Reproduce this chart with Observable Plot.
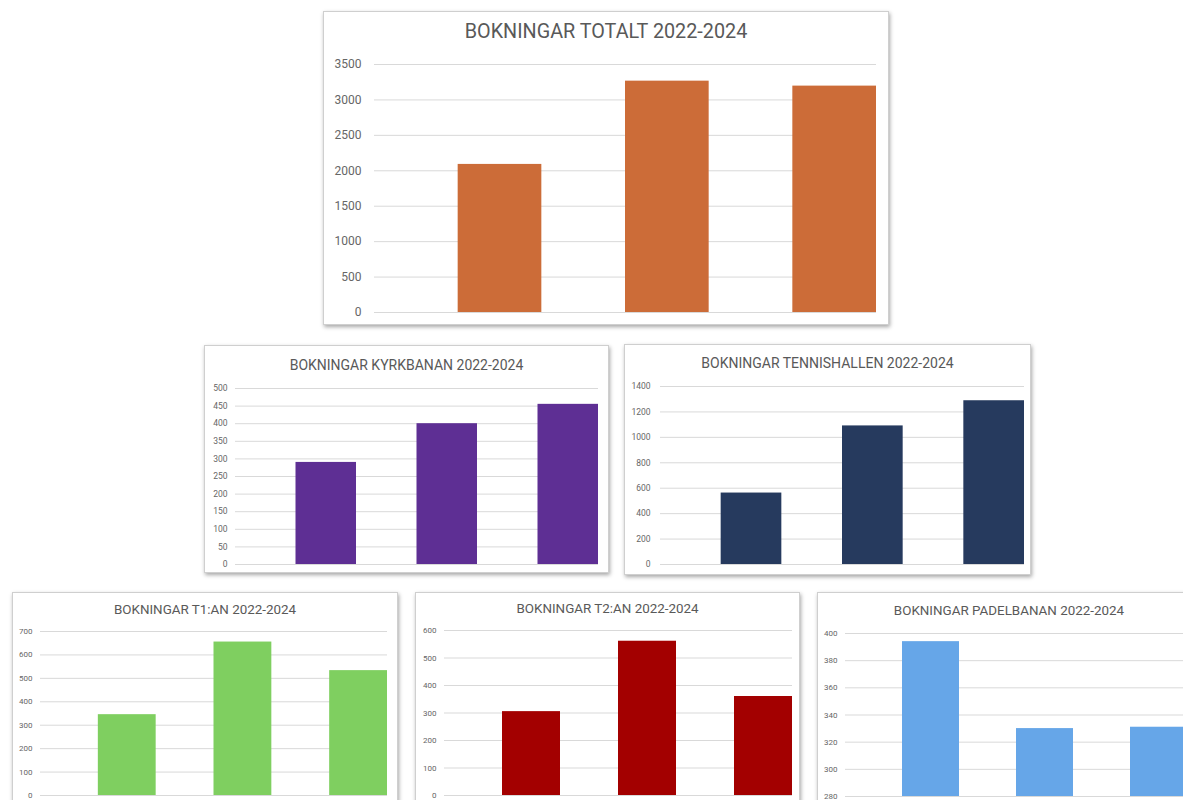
<!DOCTYPE html>
<html><head><meta charset="utf-8">
<script src="https://cdn.jsdelivr.net/npm/d3@7"></script>
<script src="https://cdn.jsdelivr.net/npm/@observablehq/plot@0.6"></script>
<style>
html,body{margin:0;padding:0;background:#fff;}
body{width:1183px;height:800px;overflow:hidden;position:relative;font-family:Roboto,"Noto Sans",sans-serif;}
.panel{position:absolute;box-sizing:content-box;background:#fff;border:1px solid #cfcfcf;box-shadow:1px 2px 4px rgba(0,0,0,0.35);overflow:hidden;}
.ttl{text-align:center;color:#595959;white-space:nowrap;}
.panel svg{display:block;}
</style></head><body>
<script>
// ---- data ----
const years = ["2022", "2023", "2024"];
const titles = [
  "BOKNINGAR TOTALT 2022-2024",
  "BOKNINGAR KYRKBANAN 2022-2024",
  "BOKNINGAR TENNISHALLEN 2022-2024",
  "BOKNINGAR T1:AN 2022-2024",
  "BOKNINGAR T2:AN 2022-2024",
  "BOKNINGAR PADELBANAN 2022-2024"
];
const totalt = [2090, 3265, 3195];
const kyrkbanan = [290, 400, 455];
const tennishallen = [562, 1090, 1288];
const t1an = [345, 655, 533];
const t2an = [305, 561, 360];
const padelbanan = [394, 330, 331];

const totaltTicks = [0, 500, 1000, 1500, 2000, 2500, 3000, 3500];
const kyrkbananTicks = [0, 50, 100, 150, 200, 250, 300, 350, 400, 450, 500];
const tennishallenTicks = [0, 200, 400, 600, 800, 1000, 1200, 1400];
const t1anTicks = [0, 100, 200, 300, 400, 500, 600, 700];
const t2anTicks = [0, 100, 200, 300, 400, 500, 600];
const padelbananTicks = [280, 300, 320, 340, 360, 380, 400];

const colors = ["#CC6C38", "#5E2F94", "#263A5E", "#7FCF60", "#A30000", "#66A6E8"];

// ---- layout (panel geometry) ----
const layout = [
  {left:323, top:11,  w:564, h:312, titleH:40, titleSize:19.8, tick:12,  mt:12, mb:12, ml:50, mr:12, pad:13},
  {left:204, top:345, w:403, h:226, titleH:38, titleSize:14,   tick:8.5, mt:4,  mb:8,  ml:30, mr:10, pad:8},
  {left:624, top:344, w:405, h:229, titleH:36, titleSize:14,   tick:8.5, mt:5,  mb:10, ml:35, mr:6,  pad:10},
  {left:12,  top:592, w:384, h:235, titleH:34, titleSize:13.4, tick:8,   mt:4,  mb:33, ml:27, mr:10, pad:8},
  {left:415, top:592, w:383, h:235, titleH:32, titleSize:13.4, tick:8,   mt:5,  mb:33, ml:28, mr:7,  pad:8},
  {left:817, top:592, w:382, h:235, titleH:36, titleSize:13.4, tick:8,   mt:4,  mb:32, ml:27, mr:13, pad:8}
];

const series = [totalt, kyrkbanan, tennishallen, t1an, t2an, padelbanan];
const ticks = [totaltTicks, kyrkbananTicks, tennishallenTicks, t1anTicks, t2anTicks, padelbananTicks];

series.forEach((vals, i) => {
  const L = layout[i];
  const panel = document.createElement("div");
  panel.className = "panel";
  Object.assign(panel.style, {left: L.left + "px", top: L.top + "px", width: L.w + "px", height: L.h + "px"});
  const t = document.createElement("div");
  t.className = "ttl";
  t.textContent = titles[i];
  Object.assign(t.style, {height: L.titleH + "px", lineHeight: L.titleH + "px", fontSize: L.titleSize + "px"});
  panel.appendChild(t);

  const data = years.map((y, j) => ({year: y, value: vals[j]}));
  const tk = ticks[i];
  const chart = Plot.plot({
    width: L.w,
    height: L.h - L.titleH,
    marginTop: L.mt, marginBottom: L.mb, marginLeft: L.ml, marginRight: L.mr,
    style: {fontFamily: "Roboto, sans-serif", fontSize: L.tick + "px", color: "#666", background: "transparent", overflow: "visible"},
    x: {domain: years, paddingInner: 0.5, paddingOuter: 0.25, align: 1, round: false, axis: null},
    y: {domain: [tk[0], tk[tk.length - 1]]},
    marks: [
      Plot.ruleY(tk, {stroke: "#d9d9d9", strokeWidth: 1}),
      Plot.barY(data, {x: "year", y: "value", fill: colors[i], clip: true}),
      Plot.axisY(tk, {tickSize: 0, tickPadding: L.pad, label: null, fontSize: L.tick, tickFormat: d => String(d)})
    ]
  });
  panel.appendChild(chart);
  document.body.appendChild(panel);
});
</script>
</body></html>
